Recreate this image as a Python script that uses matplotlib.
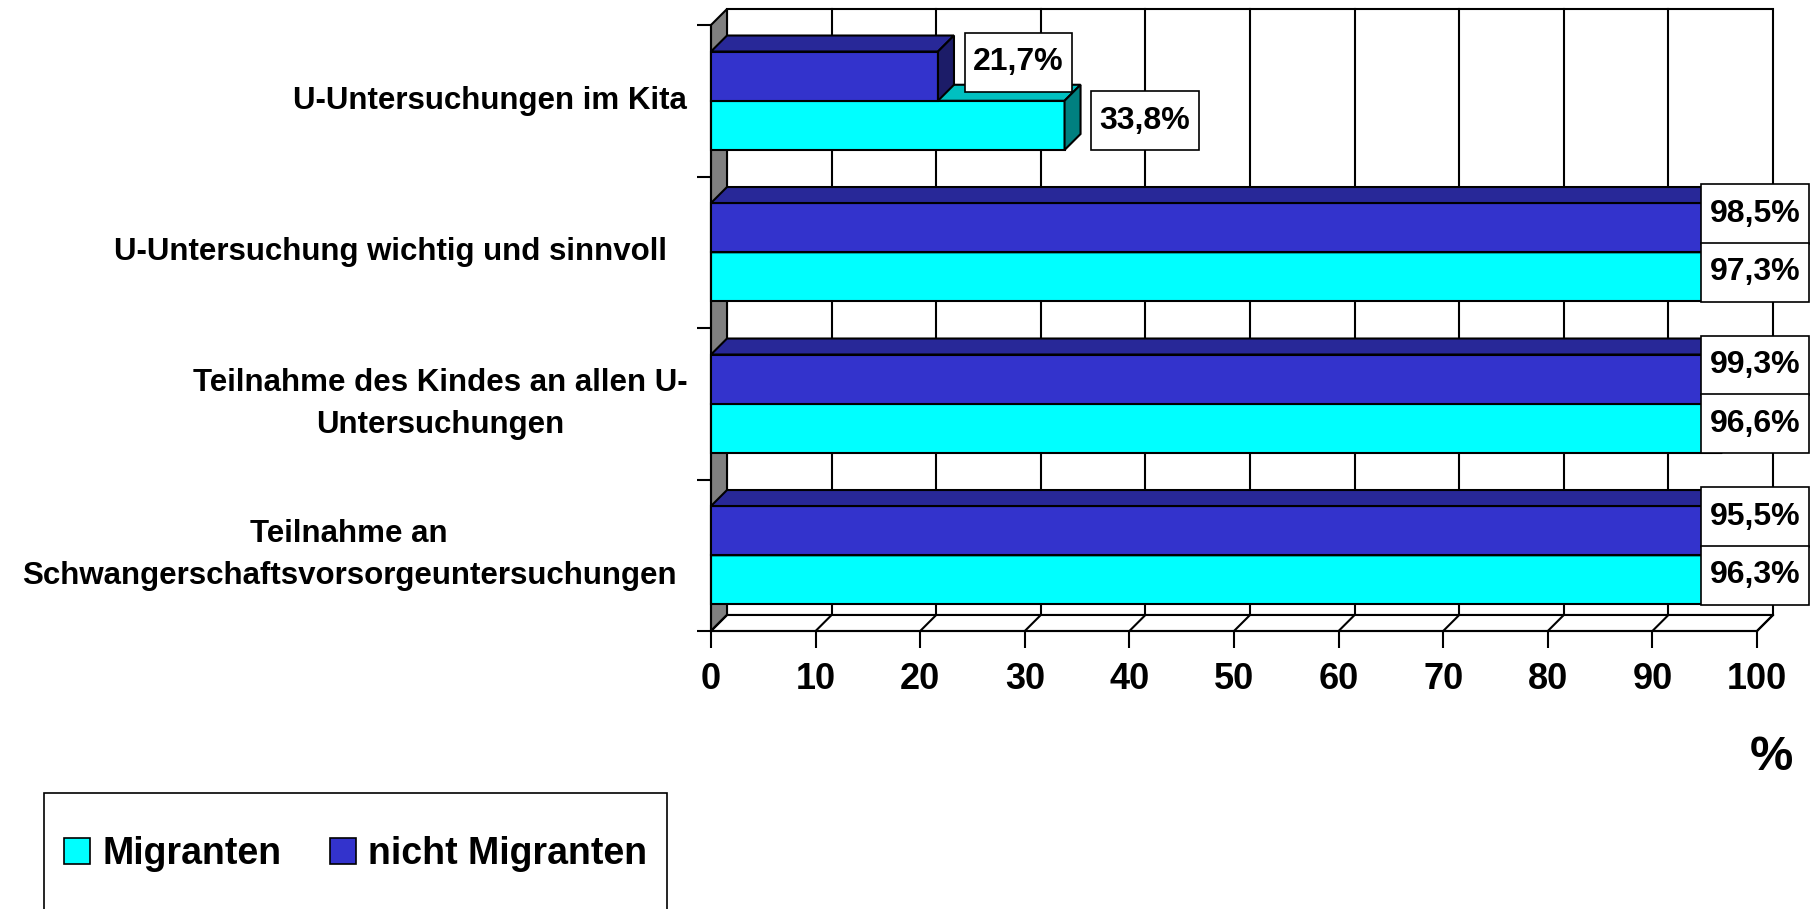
"""Recreate 3D-style horizontal bar chart on U-Untersuchungen (Migranten vs nicht Migranten)."""
import matplotlib.pyplot as plt
from matplotlib.patches import Polygon, Rectangle

# data (top to bottom)
categories = [
    "U-Untersuchungen im Kita",
    "U-Untersuchung wichtig und sinnvoll",
    "Teilnahme des Kindes an allen U-\nUntersuchungen",
    "Teilnahme an\nSchwangerschaftsvorsorgeuntersuchungen",
]
migranten = [33.8, 97.3, 96.6, 96.3]
nicht_migranten = [21.7, 98.5, 99.3, 95.5]
series_names = ["Migranten", "nicht Migranten"]
x_ticks = [0, 10, 20, 30, 40, 50, 60, 70, 80, 90, 100]

# colours: front, top, side faces
CYAN = ("#00FFFF", "#00C0C0", "#008080")
BLUE = ("#3333CC", "#282898", "#1C1C68")

plt.rcParams["font.family"] = ["Liberation Sans", "DejaVu Sans"]
plt.rcParams["font.weight"] = "bold"

W, H = 1815, 909
fig = plt.figure(figsize=(W / 100, H / 100), dpi=100)
# front plane of the plot: x 0..100 -> px 711..1757, y -0.5..3.5 -> px 631..25
ax = fig.add_axes([711 / W, (H - 631) / H, 1046 / W, 606 / H])
ax.set_xlim(0, 100)
ax.set_ylim(-0.5, 3.5)
for s in ax.spines.values():
    s.set_visible(False)

dx = 16 / 10.46   # depth offset in x data units
dy = 16 / 151.5   # depth offset in y data units
bar_h = 0.325
lw = 1.5
n = len(categories)
ypos = [n - 1 - i for i in range(n)]

# back wall
ax.add_patch(Polygon([(dx, -0.5 + dy), (100 + dx, -0.5 + dy), (100 + dx, 3.5 + dy), (dx, 3.5 + dy)],
                     closed=True, facecolor="white", edgecolor="black", lw=lw, clip_on=False, zorder=1))
for t in x_ticks[1:-1]:
    ax.plot([t + dx, t + dx], [-0.5 + dy, 3.5 + dy], color="black", lw=lw, clip_on=False, zorder=1.5)

# left side wall
ax.add_patch(Polygon([(0, -0.5), (dx, -0.5 + dy), (dx, 3.5 + dy), (0, 3.5)],
                     closed=True, facecolor="#808080", edgecolor="black", lw=lw, clip_on=False, zorder=2))
# floor
ax.add_patch(Polygon([(0, -0.5), (100, -0.5), (100 + dx, -0.5 + dy), (dx, -0.5 + dy)],
                     closed=True, facecolor="white", edgecolor="black", lw=lw, clip_on=False, zorder=2))
for t in x_ticks:
    ax.plot([t, t + dx], [-0.5, -0.5 + dy], color="black", lw=lw, clip_on=False, zorder=2.5)


def bar3d(y0, y1, v, cols, z):
    front, top, side = cols
    ax.add_patch(Rectangle((0, y0), v, y1 - y0, facecolor=front, edgecolor="black", lw=lw,
                           clip_on=False, zorder=z))
    ax.add_patch(Polygon([(0, y1), (v, y1), (v + dx, y1 + dy), (dx, y1 + dy)], closed=True,
                         facecolor=top, edgecolor="black", lw=lw, clip_on=False, zorder=z))
    ax.add_patch(Polygon([(v, y0), (v + dx, y0 + dy), (v + dx, y1 + dy), (v, y1)], closed=True,
                         facecolor=side, edgecolor="black", lw=lw, clip_on=False, zorder=z))


box_w, box_h = 10.3, 0.39


def value_label(v, yc):
    xc = min(v + 7.7, 99.8)
    ax.add_patch(Rectangle((xc - box_w / 2, yc - box_h / 2), box_w, box_h, facecolor="white",
                           edgecolor="black", lw=1.2, clip_on=False, zorder=10))
    ax.text(xc, yc, f"{v:.1f}%".replace(".", ","), ha="center", va="center", fontsize=23,
            fontweight="bold", zorder=11, clip_on=False)


for y, m, nm in zip(ypos, migranten, nicht_migranten):
    bar3d(y - bar_h, y, m, CYAN, 3)
    bar3d(y, y + bar_h, nm, BLUE, 4)
    value_label(nm, y + bar_h / 2 + 0.09)
    value_label(m, y - bar_h / 2 + 0.03)

# axis lines
ax.plot([0, 100], [-0.5, -0.5], color="black", lw=lw, clip_on=False, zorder=3)
ax.plot([0, 0], [-0.5, 3.5], color="black", lw=lw, clip_on=False, zorder=3)

ax.set_xticks(x_ticks)
ax.set_xticklabels([str(t) for t in x_ticks])
ax.tick_params(axis="x", direction="out", length=12, width=1.5, pad=10, labelsize=26)
ax.set_yticks([-0.5, 0.5, 1.5, 2.5, 3.5])
ax.set_yticklabels([])
ax.tick_params(axis="y", direction="out", length=10, width=1.5)
for lab in ax.get_xticklabels():
    lab.set_fontweight("bold")

# category labels
label_x = [-21.1, -30.6, -25.9, -34.6]
for y, cat, lx in zip(ypos, categories, label_x):
    ax.text(lx, y, cat, ha="center", va="center", multialignment="center",
            fontsize=22.5, fontweight="bold", linespacing=1.5, clip_on=False)

fig.text(1771 / W, (H - 758) / H, "%", ha="center", va="center", fontsize=35, fontweight="bold")

# legend
handles = [Rectangle((0, 0), 1, 1, facecolor=CYAN[0], edgecolor="black", lw=1.2),
           Rectangle((0, 0), 1, 1, facecolor=BLUE[0], edgecolor="black", lw=1.2)]
fig.legend(handles, series_names, loc="center left", bbox_to_anchor=(64 / W, (H - 854) / H),
           ncol=2, frameon=False, borderpad=0, borderaxespad=0, handlelength=0.7, handleheight=0.7,
           handletextpad=0.32, columnspacing=1.3, prop={"weight": "bold", "size": 27})
fig.patches.append(Rectangle((44 / W, -6 / H), 623 / W, (H - 793 + 6) / H, transform=fig.transFigure,
                             facecolor="none", edgecolor="black", lw=1.2))

fig.savefig("out.png", dpi=100)
